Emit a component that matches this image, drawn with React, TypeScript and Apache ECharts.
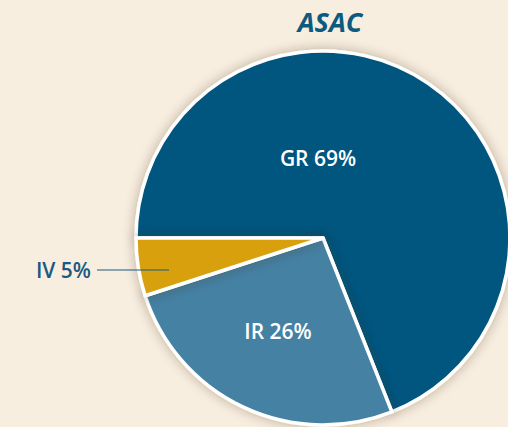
import React, { useEffect, useRef } from "react";
import * as echarts from "echarts";

const categories = ["GR", "IR", "IV"];
const values = [69, 26, 5];
const colors = ["#01567f", "#4481a3", "#d8a011"];
const title = "ASAC";

export default function App() {
  const ref = useRef<HTMLDivElement>(null);
  useEffect(() => {
    const chart = echarts.init(ref.current!, undefined, { renderer: "svg" });
    const labelPos: Record<number, { x: number; y: number; align: string }> = {
      0: { x: 318, y: 158, align: "center" },
      1: { x: 278, y: 331, align: "center" },
      2: { x: 91, y: 270, align: "right" },
    };
    const font = "Open Sans";
    chart.setOption({
      animation: false,
      backgroundColor: "#f8eee0",
      title: {
        text: title,
        left: 325,
        top: 3,
        textAlign: "center",
        textStyle: {
          fontFamily: font,
          fontStyle: "italic",
          fontWeight: "bold",
          fontSize: 27,
          color: "#0d5a80",
        },
      },
      graphic: [
        {
          type: "line",
          z: 100,
          shape: { x1: 97, y1: 270, x2: 169, y2: 270 },
          style: { stroke: "#1a5a80", lineWidth: 1.2 },
        },
      ],
      series: [
        {
          type: "pie",
          center: [323, 238],
          radius: 187,
          startAngle: 180,
          clockwise: true,
          itemStyle: {
            borderColor: "#ffffff",
            borderWidth: 3.5,
            shadowBlur: 12,
            shadowColor: "rgba(60,40,20,0.35)",
          },
          emphasis: { disabled: true },
          labelLine: { show: false },
          label: {
            position: "inside",
            fontFamily: font,
            fontWeight: 600,
            fontSize: 21,
            color: "#ffffff",
            formatter: (p: any) => `${p.name} ${p.value}%`,
          },
          labelLayout: (p: any) => {
            const l = labelPos[p.dataIndex];
            return { x: l.x, y: l.y, align: l.align, verticalAlign: "middle" };
          },
          data: categories.map((c, i) => ({
            name: c,
            value: values[i],
            itemStyle: { color: colors[i] },
            label: i === 2 ? { color: "#1a5a80" } : undefined,
          })),
        },
      ],
    });
    return () => chart.dispose();
  }, []);
  return (
    <div
      ref={ref}
      style={{ position: "absolute", left: 0, top: 0, width: 508, height: 427 }}
    />
  );
}
